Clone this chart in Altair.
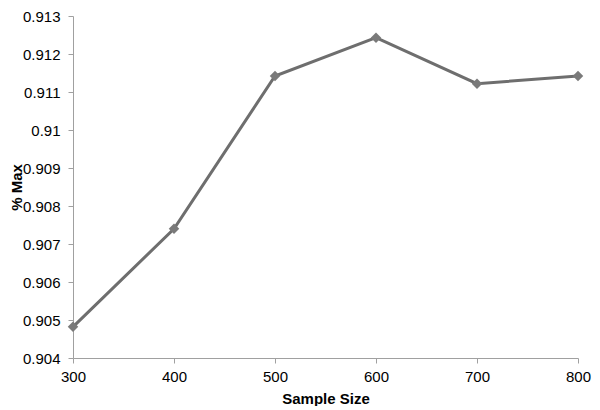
import altair as alt
import pandas as pd

sample_size = [300, 400, 500, 600, 700, 800]
pct_max = [0.90482, 0.90740, 0.91142, 0.91243, 0.91122, 0.91142]

df = pd.DataFrame({"Sample Size": sample_size, "% Max": pct_max})

x = alt.X("Sample Size:Q", scale=alt.Scale(domain=[300, 800], nice=False, zero=False),
          axis=alt.Axis(values=[300, 400, 500, 600, 700, 800], title="Sample Size",
                        grid=False, labelFontSize=15, titleFontSize=15, titleFontWeight="bold",
                        labelColor="#000", titleColor="#000", domainColor="#a0a0a0",
                        tickColor="#a0a0a0", tickSize=5, labelPadding=6, titlePadding=7,
                        labelFont="Liberation Sans", titleFont="Liberation Sans", labelFlush=False))
y = alt.Y("% Max:Q", scale=alt.Scale(domain=[0.904, 0.913], nice=False, zero=False),
          axis=alt.Axis(values=[0.904, 0.905, 0.906, 0.907, 0.908, 0.909, 0.91, 0.911, 0.912, 0.913],
                        format="~r", title="% Max", grid=False, labelFontSize=15, titleFontSize=15,
                        titleFontWeight="bold", labelColor="#000", titleColor="#000",
                        domainColor="#a0a0a0", tickColor="#a0a0a0", tickSize=5, labelPadding=8,
                        titleX=-57, titleBaseline="middle",
                        labelFont="Liberation Sans", titleFont="Liberation Sans",
                        labelFlush=False))

line = alt.Chart(df).mark_line(color="#6e6e6e", strokeWidth=3).encode(x=x, y=y)
pts = alt.Chart(df).mark_point(shape="diamond", filled=True, size=110, color="#7a7a7a", opacity=1).encode(x=x, y=y)

chart = (line + pts).properties(
    width=505, height=342,
    autosize=alt.AutoSizeParams(type="none"),
    padding={"left": 65, "top": 8, "right": 14, "bottom": 48},
).configure_view(stroke=None)

chart.save("out.html", embed_options={"renderer": "svg", "actions": False})
